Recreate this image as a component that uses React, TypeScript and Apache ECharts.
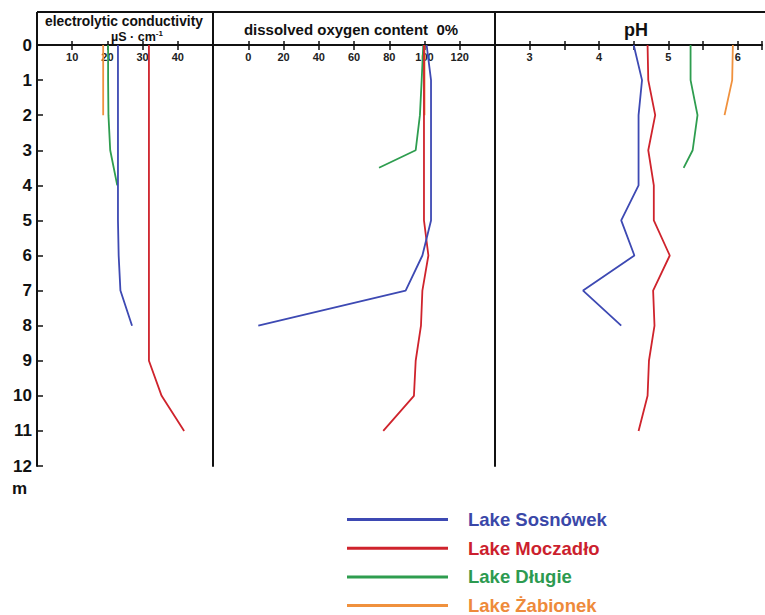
import { useEffect, useRef } from 'react';
import * as echarts from 'echarts';

// Lakes, in legend order
const lakes = ['Lake Sosnówek', 'Lake Moczadło', 'Lake Długie', 'Lake Żabionek'];
const lineColors = ['#3d49b3', '#cf232c', '#2e9d4f', '#f0913d'];
const textColors = ['#3a47a8', '#cc1f2e', '#2c9a50', '#ee8a3a'];

// Sampling depths (m)
const depthSosnowek = [0, 1, 2, 3, 4, 5, 6, 7, 8];
const depthMoczadlo = [0, 1, 2, 3, 4, 5, 6, 7, 8, 9, 10, 11];
const depthDlugieCond = [0, 1, 2, 3, 4];
const depthDlugie = [0, 1, 2, 3, 3.5];
const depthZabionek = [0, 1, 2];

// Electrolytic conductivity (µS·cm⁻¹)
const condSosnowek = [23, 23, 23, 23, 23, 23, 23.2, 23.7, 27];
const condMoczadlo = [31.8, 31.8, 31.8, 31.8, 31.8, 31.8, 31.8, 31.8, 31.8, 31.8, 35.4, 41.8];
const condDlugie = [20.2, 20.2, 20.3, 20.8, 22.8];
const condZabionek = [18.8, 18.8, 18.8];

// Dissolved oxygen (% saturation)
const oxySosnowek = [101.2, 103.7, 103.7, 103.7, 103.7, 103.7, 98.8, 89.3, 5.7];
const oxyMoczadlo = [99.7, 99.7, 99.7, 99.7, 99.7, 99.7, 102.2, 98.8, 98, 95, 94, 76.6];
const oxyDlugie = [99.3, 98.4, 97.4, 95, 74.2];
const oxyZabionek = [100, 100, 100];

// pH
const phSosnowek = [4.5, 4.62, 4.57, 4.57, 4.57, 4.32, 4.51, 3.77, 4.32];
const phMoczadlo = [4.7, 4.71, 4.81, 4.71, 4.79, 4.79, 5.02, 4.78, 4.8, 4.72, 4.7, 4.57];
const phDlugie = [5.32, 5.32, 5.42, 5.35, 5.22];
const phZabionek = [5.93, 5.92, 5.81];

const FONT = 'Liberation Sans, Arial, sans-serif';

// frame geometry
const X0 = 37;
const X1 = 213;
const X2 = 495;
const X3 = 765;
const TOP = 12;
const AXIS_Y = 45;
const BOTTOM_Y = 466;

const pair = (vals: number[], depths: number[]) => vals.map((v, i) => [v, depths[i]]);

export default function App() {
  const ref = useRef<HTMLDivElement>(null);

  useEffect(() => {
    if (!ref.current) return;
    const chart = echarts.init(ref.current, undefined, { renderer: 'svg' });

    const panels = [
      { min: 0, max: 50, interval: 10, fmt: (v: number) => (v <= 0 || v >= 50 ? '' : String(v)) },
      { min: -20, max: 140, interval: 20, fmt: (v: number) => (v < 0 || v > 120 ? '' : String(v)) },
      { min: 2.5, max: 6.35, interval: 0.5, fmt: (v: number) => (Number.isInteger(v) ? String(v) : '') },
    ];

    const mainX = panels.map((p, i) => ({
      type: 'value',
      gridIndex: i,
      position: 'top',
      min: p.min,
      max: p.max,
      interval: p.interval,
      axisLine: { show: true, onZero: false, lineStyle: { color: '#111', width: 2 } },
      axisTick: { show: true, inside: true, length: 5, lineStyle: { color: '#111', width: 1.5 } },
      axisLabel: {
        inside: true,
        margin: 6,
        fontSize: 11,
        fontWeight: 'bold',
        fontFamily: FONT,
        color: '#222',
        formatter: p.fmt,
      },
      splitLine: { show: false },
    }));
    // second copy of each top axis draws the outward half of the tick marks
    const outerX = panels.map((p, i) => ({
      type: 'value',
      gridIndex: i,
      position: 'top',
      min: p.min,
      max: p.max,
      interval: p.interval,
      axisLine: { show: false, onZero: false },
      axisTick: { show: true, inside: false, length: 4, lineStyle: { color: '#111', width: 1.5 } },
      axisLabel: { show: false },
      splitLine: { show: false },
    }));

    const yAxes = [0, 1, 2].map((i) => ({
      type: 'value',
      gridIndex: i,
      position: 'left',
      inverse: true,
      min: 0,
      max: 12,
      interval: 1,
      axisLine: { show: true, onZero: false, lineStyle: { color: '#111', width: 2 } },
      axisTick: { show: i === 0, inside: true, length: 6, lineStyle: { color: '#111', width: 1.5 } },
      axisLabel: {
        show: i === 0,
        margin: 5,
        fontSize: 17,
        fontWeight: 'bold',
        fontFamily: FONT,
        color: '#111',
      },
      splitLine: { show: false },
      ...(i === 0
        ? {
            name: 'm',
            nameLocation: 'end',
            nameGap: 14,
            nameTextStyle: {
              fontSize: 17,
              fontWeight: 'bold',
              fontFamily: FONT,
              color: '#111',
              align: 'right',
              padding: [0, 10, 0, 0],
            },
          }
        : {}),
    }));

    const params = [
      [
        pair(condSosnowek, depthSosnowek),
        pair(condMoczadlo, depthMoczadlo),
        pair(condDlugie, depthDlugieCond),
        pair(condZabionek, depthZabionek),
      ],
      [
        pair(oxySosnowek, depthSosnowek),
        pair(oxyMoczadlo, depthMoczadlo),
        pair(oxyDlugie, depthDlugie),
        pair(oxyZabionek, depthZabionek),
      ],
      [
        pair(phSosnowek, depthSosnowek),
        pair(phMoczadlo, depthMoczadlo),
        pair(phDlugie, depthDlugie),
        pair(phZabionek, depthZabionek),
      ],
    ];

    const zOrder = [4, 3, 2, 1];
    const series: any[] = [];
    params.forEach((lakeData, p) => {
      lakeData.forEach((data, k) => {
        series.push({
          type: 'line',
          name: lakes[k],
          xAxisIndex: p,
          yAxisIndex: p,
          data,
          showSymbol: false,
          symbol: 'none',
          color: lineColors[k],
          lineStyle: { color: lineColors[k], width: 1.8 },
          z: zOrder[k] + 2,
        });
      });
    });

    const headerLine = (x1: number, y1: number, x2: number, y2: number) => ({
      type: 'line',
      shape: { x1, y1, x2, y2 },
      style: { stroke: '#111', lineWidth: 2 },
      silent: true,
    });
    const headerText = (text: string, x: number, y: number, size: number) => ({
      type: 'text',
      x,
      y,
      style: {
        text,
        fill: '#111',
        font: `bold ${size}px ${FONT}`,
        align: 'center',
        verticalAlign: 'middle',
      },
      silent: true,
    });

    chart.setOption({
      animation: false,
      backgroundColor: '#ffffff',
      grid: [
        { left: X0, top: AXIS_Y, width: X1 - X0, height: BOTTOM_Y - AXIS_Y },
        { left: X1, top: AXIS_Y, width: X2 - X1, height: BOTTOM_Y - AXIS_Y },
        { left: X2, top: AXIS_Y, width: X3 - X2, height: BOTTOM_Y - AXIS_Y },
      ],
      xAxis: [...mainX, ...outerX],
      yAxis: yAxes,
      legend: {
        orient: 'vertical',
        left: 347,
        top: 510,
        padding: 0,
        height: 112,
        icon: 'rect',
        itemWidth: 101,
        itemHeight: 3,
        itemGap: 9.7,
        data: lakes.map((name, k) => ({ name, textStyle: { color: textColors[k] } })),
        textStyle: {
          fontSize: 18.5,
          fontWeight: 'bold',
          fontFamily: FONT,
          lineHeight: 19,
          padding: [0, 0, 0, 15],
        },
      },
      graphic: [
        headerLine(X0, TOP, X3, TOP),
        headerLine(X0, TOP, X0, AXIS_Y),
        headerLine(X1, TOP, X1, AXIS_Y),
        headerLine(X2, TOP, X2, AXIS_Y),
        headerText('electrolytic conductivity', 124, 21, 13.8),
        {
          type: 'text',
          x: 137,
          y: 36.5,
          style: {
            text: '{a|µS · cm}{s|-1}',
            align: 'center',
            verticalAlign: 'middle',
            rich: {
              a: { font: `bold 12.5px ${FONT}`, fill: '#111' },
              s: { font: `bold 8px ${FONT}`, fill: '#111', verticalAlign: 'top', padding: [0, 0, 6, 0] },
            },
          },
          silent: true,
        },
        headerText('dissolved oxygen content  0%', 351, 29, 15),
        headerText('pH', 636, 30, 18),
      ],
      series,
    });

    return () => chart.dispose();
  }, []);

  return (
    <div
      ref={ref}
      style={{ position: 'fixed', left: 0, top: 0, width: 765, height: 615, background: '#fff' }}
    />
  );
}
